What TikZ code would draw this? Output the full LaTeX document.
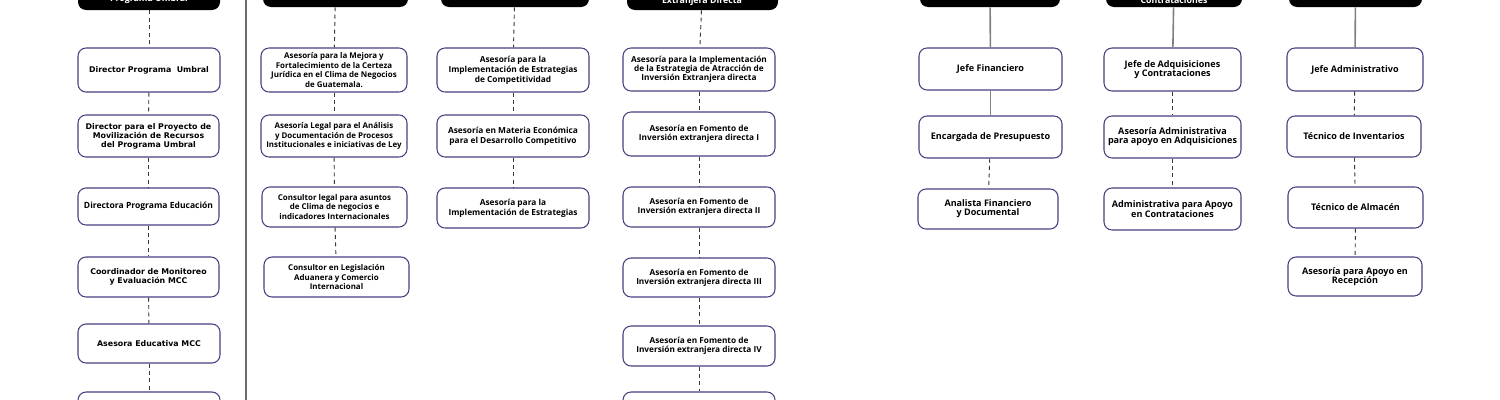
\documentclass[tikz,border=0pt]{standalone}
\usepackage{fontspec}
\setmainfont{Open Sans}
\newfontfamily\wideface{DejaVu Sans}
\definecolor{bordc}{RGB}{72,64,128}
\definecolor{dashc}{RGB}{55,55,55}
\definecolor{solc}{RGB}{128,128,128}
\tikzset{
  bx/.style={draw=bordc, line width=0.8pt, rounded corners=6pt, fill=white, inner sep=0pt,
    align=center, font=\fontsize{6.1}{7.2}\selectfont\bfseries, text=black},
  fa/.style={font=\wideface\fontsize{5.9}{6.8}\selectfont\bfseries},
  fa3/.style={font=\fontsize{6.4}{7.2}\selectfont\bfseries},
  fb/.style={font=\fontsize{5.95}{7.3}\selectfont\bfseries},
  fc/.style={font=\fontsize{6.25}{7.5}\selectfont\bfseries},
  fd/.style={font=\fontsize{6.2}{6.7}\selectfont\bfseries},
  fe/.style={font=\fontsize{6.8}{6.9}\selectfont\bfseries},
  hd/.style={fill=black, rounded corners=6pt, inner sep=0pt},
  hdtext/.style={text=white, anchor=base, inner sep=0pt, font=\fontsize{6.6}{7}\selectfont\bfseries},
  dl/.style={draw=dashc, line width=0.7pt, dash pattern=on 3pt off 2.6pt},
  sl/.style={draw=solc, line width=1.2pt},
  sep/.style={draw=solc!85!black, line width=1pt}
}
\newcommand{\obox}[7]{\node[bx, #7, minimum width={(#4-#2)*0.75pt}, minimum height={(#5-#3)*0.75pt}] (#1) at ({(#2+#4)/2},{(#3+#5)/2}) {#6};}
\newcommand{\hdr}[4]{\node[hd, minimum width={(#3-#2)*0.75pt}, minimum height={(#4+40)*0.75pt}] (#1) at ({(#2+#3)/2},{(#4-40)/2}) {};}
\begin{document}
\begin{tikzpicture}[x=0.75pt,y=-0.75pt]
\useasboundingbox (0,0) rectangle (1500,400);
\fill[white] (0,0) rectangle (1500,400);
\clip (0,0) rectangle (1500,400);
% separator
\coordinate (s1) at (246,0);
\coordinate (s2) at (246,400);
\draw[sep] (s1) -- (s2);
% headers
\hdr{h1}{78}{220}{10}
\hdr{h2}{263}{408}{7}
\hdr{h3}{441}{589}{7}
\hdr{h4}{627}{778}{10}
\hdr{h5}{920}{1060}{7}
\hdr{h6}{1106}{1242}{7}
\hdr{h7}{1289}{1422}{7}
\node[hdtext] (h1t) at (149,1.5) {Programa Umbral};
\node[hdtext] (h4t) at (702,3.5) {Extranjera Directa};
\node[hdtext] (h6t) at (1174,3) {Contrataciones};
% column 1
\obox{a1}{78}{48}{220}{92}{Director Programa\ \ Umbral}{fa}
\obox{a2}{78}{115}{219}{157}{Director para el Proyecto de\\Movilización de Recursos\\del Programa Umbral}{fa}
\obox{a3}{78}{188}{219}{225}{Directora Programa Educación}{fa3}
\obox{a4}{78}{257}{219}{297}{Coordinador de Monitoreo\\y Evaluación MCC}{fa}
\obox{a5}{78}{324}{220}{363}{Asesora Educativa MCC}{fa}
\obox{a6}{78}{392}{220}{432}{}{fa}
% column 2
\obox{b1}{261}{48}{407}{92}{Asesoría para la Mejora y\\Fortalecimiento de la Certeza\\Jurídica en el Clima de Negocios\\de Guatemala.}{fb}
\obox{b2}{261}{115}{407}{157}{Asesoría Legal para el Análisis\\y Documentación de Procesos\\Institucionales e iniciativas de Ley}{fb}
\obox{b3}{262}{187}{407}{227}{Consultor legal para asuntos\\de Clima de negocios e\\indicadores Internacionales}{fb}
\obox{b4}{264}{257}{409}{297}{Consultor en Legislación\\Aduanera y Comercio\\Internacional}{fb}
% column 3
\obox{c1}{437}{48}{589}{92}{Asesoría para la\\Implementación de Estrategias\\de Competitividad}{fc}
\obox{c2}{437}{115}{589}{157}{Asesoría en Materia Económica\\para el Desarrollo Competitivo}{fc}
\obox{c3}{437}{188}{589}{228}{Asesoría para la\\Implementación de Estrategias}{fc}
% column 4
\obox{d1}{623}{48}{775}{91}{Asesoría para la Implementación\\de la Estrategia de Atracción de\\Inversión Extranjera directa}{fd}
\obox{d2}{623}{112}{775}{156}{Asesoría en Fomento de\\Inversión extranjera directa I}{fd}
\obox{d3}{623}{187}{775}{227}{Asesoría en Fomento de\\Inversión extranjera directa II}{fd}
\obox{d4}{623}{258}{775}{297}{Asesoría en Fomento de\\Inversión extranjera directa III}{fd}
\obox{d5}{623}{326}{775}{366}{Asesoría en Fomento de\\Inversión extranjera directa IV}{fd}
\obox{d6}{623}{392}{775}{432}{}{fd}
% column 5
\obox{e1}{919}{48}{1062}{90}{Jefe Financiero}{fe}
\obox{e2}{919}{116}{1062}{158}{Encargada de Presupuesto}{fe}
\obox{e3}{918}{189}{1058}{229}{Analista Financiero\\y Documental}{fe}
% column 6
\obox{f1}{1104}{48}{1241}{91}{Jefe de Adquisiciones\\y Contrataciones}{fe}
\obox{f2}{1104}{116}{1241}{158}{Asesoría Administrativa\\para apoyo en Adquisiciones}{fe}
\obox{f3}{1104}{188}{1241}{230}{Administrativa para Apoyo\\en Contrataciones}{fe}
% column 7
\obox{g1}{1287}{48}{1423}{91}{Jefe Administrativo}{fe}
\obox{g2}{1287}{116}{1421}{157}{Técnico de Inventarios}{fe}
\obox{g3}{1288}{187}{1423}{228}{Técnico de Almacén}{fe}
\obox{g4}{1288}{257}{1422}{296}{Asesoría para Apoyo en\\Recepción}{fe}
% connectors
\draw[dl] (h1) -- (a1);
\draw[dl] (a1) -- (a2);
\draw[dl] (a2) -- (a3);
\draw[dl] (a3) -- (a4);
\draw[dl] (a4) -- (a5);
\draw[dl] (a5) -- (a6);
\draw[dl] (h2) -- (b1);
\draw[dl] (b1) -- (b2);
\draw[dl] (b2) -- (b3);
\draw[dl] (b3) -- (b4);
\draw[dl] (h3) -- (c1);
\draw[dl] (c1) -- (c2);
\draw[dl] (c2) -- (c3);
\draw[dl] (h4) -- (d1);
\draw[dl] (d1) -- (d2);
\draw[dl] (d2) -- (d3);
\draw[dl] (d3) -- (d4);
\draw[dl] (d4) -- (d5);
\draw[dl] (d5) -- (d6);
\draw[sl] (h5) -- (e1);
\draw[sl] (e1) -- (e2);
\draw[dl] (e2) -- (e3);
\draw[sl] (h6) -- (f1);
\draw[dl] (f1) -- (f2);
\draw[dl] (f2) -- (f3);
\draw[sl] (h7) -- (g1);
\draw[dl] (g1) -- (g2);
\draw[dl] (g2) -- (g3);
\draw[dl] (g3) -- (g4);
\end{tikzpicture}
\end{document}
